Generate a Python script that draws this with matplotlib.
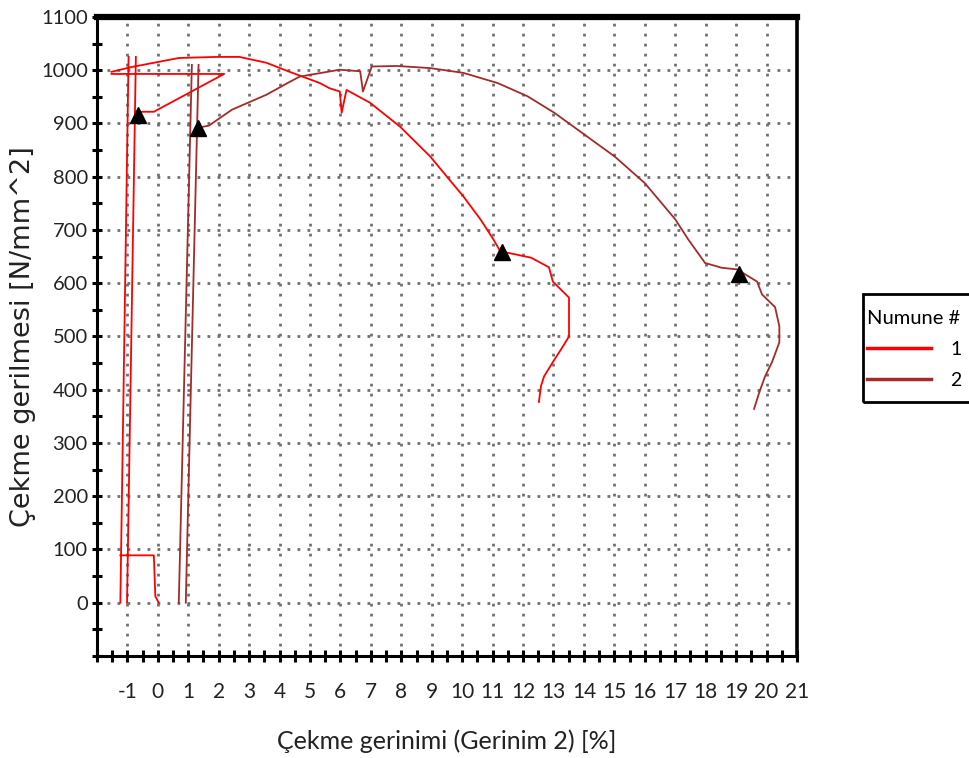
import numpy as np
import matplotlib
matplotlib.use('Agg')
import matplotlib.pyplot as plt
from matplotlib.ticker import MultipleLocator
from matplotlib.patches import Rectangle

nan = np.nan

# Numune 1 (kırmızı) - parçalar nan ile ayrıldı
n1_x = [-1.23, -0.96, nan,
        -1.01, -0.72, nan,
        -1.23, -0.13, -0.08, 0.03, nan,
        -1.52, 2.18, -0.13, -0.69, nan,
        -1.52, -0.86, 0.69, 1.92, 2.68, 3.57, 4.33, 5.32, 5.65, 5.98, 6.04, 6.2,
        6.97, 7.96, 8.95, 9.5, 10.04, 10.6, 11.03, 11.27, 11.43, 12.26, 12.85,
        12.98, 13.51, 13.51, 13.25, 12.98, 12.69, 12.59, 12.52]
n1_y = [0, 1025, nan,
        0, 1025, nan,
        89, 89, 12, 0, nan,
        993, 993, 922, 922, nan,
        997, 1006, 1023, 1025, 1025, 1014, 997, 976, 966, 960, 920, 963,
        939, 894, 838, 800, 763, 720, 682, 658, 658, 648, 630,
        603, 573, 500, 476, 452, 425, 407, 377]

# Numune 2 (kahverengi)
n2_x = [0.69, 1.12, nan,
        0.92, 1.34, nan,
        1.32, 1.68, 2.44, 3.57, 4.33, 4.66, 5.98, 6.65, 6.74, 7.03, 7.85, 8.95,
        10.04, 11.16, 12.15, 13.03, 14.02, 15.01, 16.0, 17.0, 17.43, 17.98,
        18.53, 19.03, 19.69, 19.85, 20.28, 20.42, 20.42, 20.18, 19.95, 19.76, 19.59]
n2_y = [0, 1010, nan,
        0, 1010, nan,
        892, 896, 926, 954, 978, 988, 1001, 998, 960, 1007, 1008, 1004,
        995, 976, 951, 920, 879, 838, 788, 720, 682, 638,
        629, 626, 603, 579, 555, 519, 489, 452, 425, 395, 364]

# akma / kopma işaretleri
mark_x = [-0.66, 11.32, 1.33, 19.1]
mark_y = [916, 658, 892, 618]

x_ticks = list(range(-1, 22))
y_ticks = list(range(0, 1101, 100))

fig = plt.figure(figsize=(9.69, 7.58), dpi=100)
ax = fig.add_axes([0.100, 0.1346, 0.7225, 0.843])

l1, = ax.plot(n1_x, n1_y, color='#ff0000', lw=1.3, label='1')
l2, = ax.plot(n2_x, n2_y, color='#a52a2a', lw=1.3, label='2')
ax.plot(mark_x, mark_y, '^', color='black', ms=11, ls='none')

ax.set_xlim(-2, 21)
ax.set_ylim(-100, 1100)
ax.set_xticks(x_ticks)
ax.set_xticklabels([str(t) for t in x_ticks])
ax.set_yticks(y_ticks)
ax.set_yticklabels([str(t) for t in y_ticks])
ax.xaxis.set_minor_locator(MultipleLocator(0.5))
ax.yaxis.set_minor_locator(MultipleLocator(50))

ax.tick_params(axis='both', which='both', direction='inout', width=2.2,
               colors='black', labelcolor='#222222')
ax.tick_params(axis='x', which='both', length=9, pad=14)
ax.tick_params(axis='y', which='both', length=7, pad=3)
for lab in ax.get_xticklabels():
    lab.set_fontfamily('Lato')
    lab.set_fontsize(15)
for lab in ax.get_yticklabels():
    lab.set_fontfamily('Lato')
    lab.set_fontsize(14.5)

ax.grid(True, which='major', color='#707070', lw=2.0, ls=(0, (1, 2.6)))
ax.set_axisbelow(True)

for side, w in [('left', 2.2), ('bottom', 2.2), ('right', 2.6), ('top', 4.5)]:
    ax.spines[side].set_linewidth(w)
    ax.spines[side].set_color('black')

ax.set_xlabel('Çekme gerinimi (Gerinim 2) [%]', fontfamily='Lato',
              fontsize=18, color='#222222', labelpad=20)
ax.set_ylabel('Çekme gerilmesi [N/mm^2]', fontfamily='DejaVu Sans',
              fontsize=19.5, color='#222222')
ax.yaxis.set_label_coords(-0.106, 0.5)
ax.yaxis.label.set_verticalalignment('center')

leg = fig.legend(handles=[l1, l2], title='Numune #', loc='upper left',
                 bbox_to_anchor=(867 / 969, 1 - 310 / 758),
                 prop={'family': 'Lato', 'size': 14},
                 title_fontproperties={'family': 'Lato', 'size': 14.5},
                 frameon=False, borderpad=0,
                 handlelength=3.3, handletextpad=1.0, labelspacing=0.72,
                 borderaxespad=0)
leg._legend_box.align = 'left'
for h in leg.legend_handles:
    h.set_linewidth(2.5)
fig.patches.append(Rectangle((863 / 969, 1 - 402 / 758), 0.2, 108 / 758,
                             transform=fig.transFigure, fill=False,
                             lw=2, ec='black'))

fig.savefig('out.png', dpi=100)
